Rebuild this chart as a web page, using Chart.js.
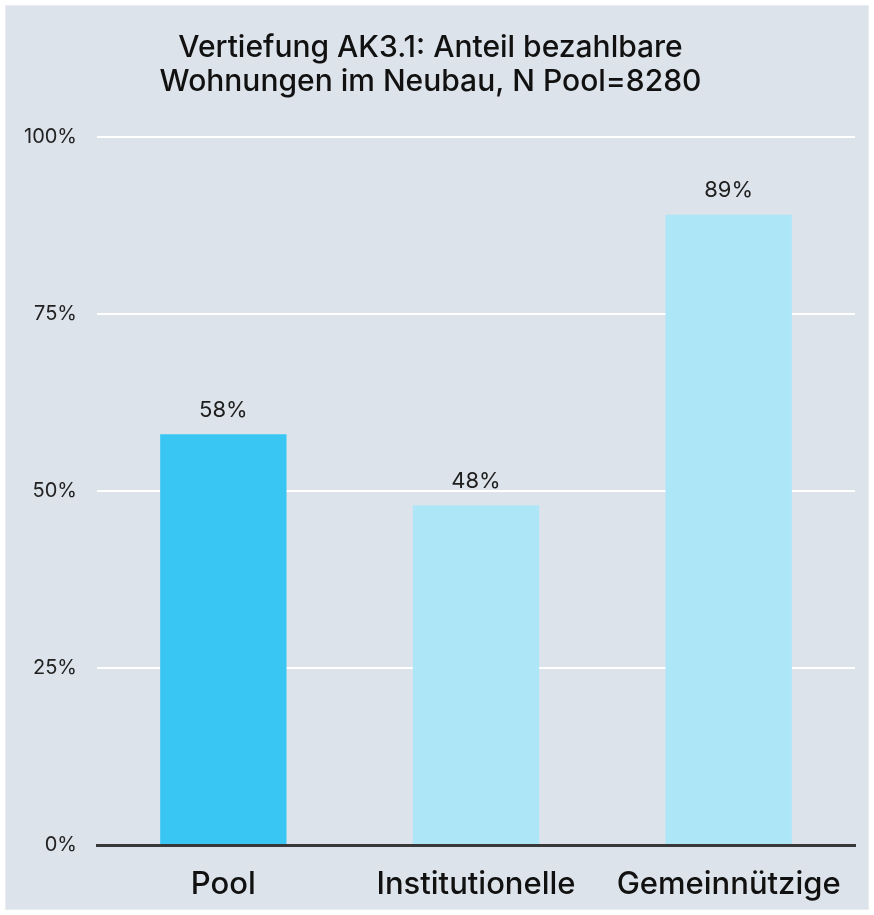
<!DOCTYPE html>
<html>
<head>
<meta charset="utf-8">
<script src="https://cdn.jsdelivr.net/npm/chart.js@4"></script>
<style>
  body { margin: 0; background: #ffffff; }
  #panel {
    position: absolute; left: 5px; top: 5px;
    width: 862px; height: 903px;
    background: #dde3ea; border: 1px solid #e9edf1;
  }
</style>
</head>
<body>
<div id="panel"><canvas id="chart" width="862" height="903"></canvas></div>
<script>
const categories = ["Pool", "Institutionelle", "Gemeinnützige"];
const shares = [58, 48, 89];
const barColors = ["#39c6f2", "#ade6f7", "#ade6f7"];
const yTicks = [0, 25, 50, 75, 100];

const FONT = "Inter, 'Noto Sans', sans-serif";

// draws the percent value above each bar
const valueLabels = {
  id: "valueLabels",
  afterDatasetsDraw(chart) {
    const ctx = chart.ctx;
    const meta = chart.getDatasetMeta(0);
    ctx.save();
    ctx.font = "22px " + FONT;
    ctx.fillStyle = "#1e1e1e";
    ctx.textAlign = "center";
    ctx.textBaseline = "bottom";
    meta.data.forEach((bar, i) => {
      ctx.fillText(shares[i] + "%", bar.x, bar.y - 13);
    });
    ctx.restore();
  },
};

new Chart(document.getElementById("chart"), {
  type: "bar",
  data: {
    labels: categories,
    datasets: [
      {
        data: shares,
        backgroundColor: barColors,
        barPercentage: 0.5,
        categoryPercentage: 1,
      },
    ],
  },
  options: {
    responsive: false,
    animation: false,
    layout: { padding: { top: 0, right: 13, bottom: 0, left: 0 } },
    plugins: {
      legend: { display: false },
      tooltip: { enabled: false },
      title: {
        display: true,
        text: ["Vertiefung AK3.1: Anteil bezahlbare", "Wohnungen im Neubau, N Pool=8280"],
        color: "#111111",
        font: { family: FONT, size: 30, weight: "500", lineHeight: 1.133 },
        padding: { top: 25, bottom: 38 },
      },
    },
    scales: {
      x: {
        afterFit: (s) => { s.height = 64; },
        grid: { display: false, drawTicks: false },
        border: { display: true, color: "#383838", width: 3 },
        ticks: {
          color: "#111111",
          font: { family: FONT, size: 31, weight: "500" },
          padding: 21,
        },
      },
      y: {
        min: 0,
        max: 100,
        afterFit: (s) => { s.width = 91; },
        afterBuildTicks: (s) => { s.ticks = yTicks.map((v) => ({ value: v })); },
        border: { display: false },
        grid: { color: "#ffffff", lineWidth: 2, drawTicks: false },
        ticks: {
          color: "#222222",
          font: { family: FONT, size: 20 },
          padding: 20,
          callback: (v) => v + "%",
        },
      },
    },
  },
  plugins: [valueLabels],
});
</script>
</body>
</html>
